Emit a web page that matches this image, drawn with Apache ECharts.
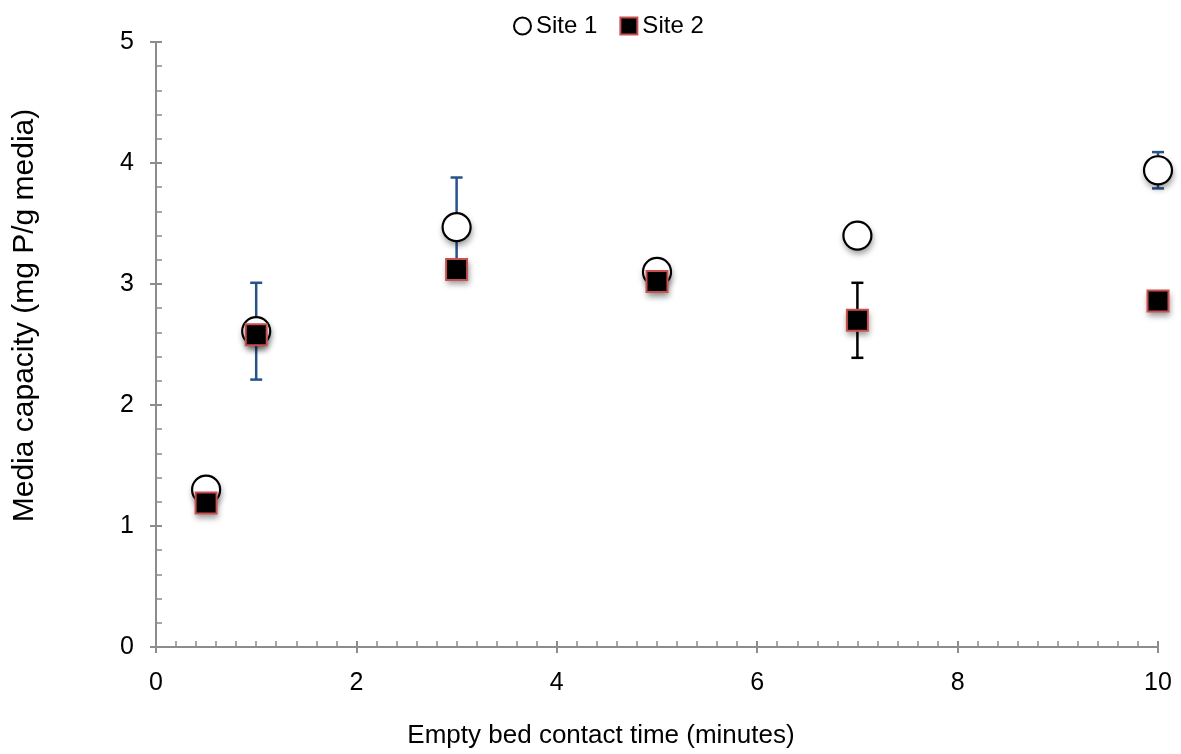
<!DOCTYPE html>
<html>
<head>
<meta charset="utf-8">
<script src="https://cdn.jsdelivr.net/npm/echarts@6/dist/echarts.min.js"></script>
<style>
  html, body { margin: 0; padding: 0; background: #fff; }
  #chart { width: 1181px; height: 754px; }
</style>
</head>
<body>
<div id="chart"></div>
<script>
// Empty bed contact time (minutes)
const ebct = [0.5, 1, 3, 5, 7, 10];
// Media capacity (mg P/g media)
const site1 = [1.30, 2.61, 3.47, 3.10, 3.40, 3.94];
const site2 = [1.19, 2.58, 3.12, 3.02, 2.70, 2.86];
// Error bar half-widths (null = no bar)
const site1Err = [null, 0.40, 0.41, null, null, 0.15];
const site2Err = [null, null, null, null, 0.31, null];

const xTicks = { min: 0, max: 10, interval: 2 };
const yTicks = { min: 0, max: 5, interval: 1 };

const FONT = 'Liberation Sans, Arial, sans-serif';
const AXIS_GREY = '#8c8c8c';

function errorData(vals, errs) {
  const out = [];
  vals.forEach((v, i) => {
    if (errs[i] != null) out.push([ebct[i], v - errs[i], v + errs[i]]);
  });
  return out;
}

function errorSeries(name, vals, errs, color) {
  return {
    type: 'custom',
    name: name + ' error',
    z: 1,
    silent: true,
    data: errorData(vals, errs),
    encode: { x: 0, y: [1, 2] },
    renderItem: function (params, api) {
      const x = api.value(0);
      const lo = api.coord([x, api.value(1)]);
      const hi = api.coord([x, api.value(2)]);
      const cap = 6;
      const style = { stroke: color, lineWidth: 2.5 };
      return {
        type: 'group',
        children: [
          { type: 'line', shape: { x1: lo[0], y1: lo[1], x2: hi[0], y2: hi[1] }, style: style },
          { type: 'line', shape: { x1: hi[0] - cap, y1: hi[1], x2: hi[0] + cap, y2: hi[1] }, style: style },
          { type: 'line', shape: { x1: lo[0] - cap, y1: lo[1], x2: lo[0] + cap, y2: lo[1] }, style: style }
        ]
      };
    }
  };
}

// Soft drop shadow drawn as its own layer so marker fills stay clean
function shadowSeries(vals, symbol, size, z) {
  return {
    type: 'scatter',
    name: 'shadow',
    z: z,
    silent: true,
    symbol: symbol,
    symbolSize: size,
    itemStyle: {
      color: '#ffffff',
      opacity: 1,
      shadowBlur: 6,
      shadowOffsetX: 1,
      shadowOffsetY: 4,
      shadowColor: 'rgba(0,0,0,0.4)'
    },
    data: ebct.map((x, i) => [x, vals[i]])
  };
}

const chart = echarts.init(document.getElementById('chart'), null, { renderer: 'canvas' });

const baseX = { type: 'value', min: xTicks.min, max: xTicks.max, interval: xTicks.interval };
const baseY = { type: 'value', min: yTicks.min, max: yTicks.max, interval: yTicks.interval };

chart.setOption({
  backgroundColor: '#ffffff',
  animation: false,
  textStyle: { fontFamily: FONT },
  legend: {
    top: 9,
    left: 508,
    itemWidth: 17,
    itemHeight: 17,
    itemGap: 22,
    textStyle: { fontSize: 24, color: '#000', fontFamily: FONT },
    data: ['Site 1', 'Site 2']
  },
  grid: { left: 156, right: 23, top: 42, bottom: 101, containLabel: false },
  xAxis: [
    Object.assign({}, baseX, {
      name: 'Empty bed contact time (minutes)',
      nameLocation: 'middle',
      nameGap: 76,
      nameTextStyle: { fontSize: 26, color: '#000', fontFamily: FONT, padding: [0, 112, 0, 0] },
      axisLine: { show: true, lineStyle: { color: AXIS_GREY, width: 2 } },
      axisTick: { show: true, inside: true, length: 6, lineStyle: { color: AXIS_GREY, width: 2 } },
      minorTick: { show: true, splitNumber: 10, length: 6, lineStyle: { color: AXIS_GREY, width: 1.5 } },
      axisLabel: { fontSize: 25, color: '#000', margin: 24, fontFamily: FONT },
      splitLine: { show: false }
    }),
    Object.assign({}, baseX, {
      position: 'bottom',
      axisLine: { show: false },
      axisTick: { show: true, inside: false, length: 6, lineStyle: { color: AXIS_GREY, width: 2 } },
      axisLabel: { show: false },
      splitLine: { show: false }
    })
  ],
  yAxis: [
    Object.assign({}, baseY, {
      name: 'Media capacity (mg P/g media)',
      nameLocation: 'middle',
      nameGap: 116,
      nameRotate: 90,
      nameTextStyle: { fontSize: 30, color: '#000', fontFamily: FONT, padding: [0, 0, 0, 58] },
      axisLine: { show: true, lineStyle: { color: AXIS_GREY, width: 2 } },
      axisTick: { show: true, inside: true, length: 6, lineStyle: { color: AXIS_GREY, width: 2 } },
      minorTick: { show: true, splitNumber: 5, length: 6, lineStyle: { color: AXIS_GREY, width: 1.5 } },
      axisLabel: { fontSize: 25, color: '#000', margin: 22, fontFamily: FONT },
      splitLine: { show: false }
    }),
    Object.assign({}, baseY, {
      position: 'left',
      axisLine: { show: false },
      axisTick: { show: true, inside: false, length: 6, lineStyle: { color: AXIS_GREY, width: 2 } },
      axisLabel: { show: false },
      splitLine: { show: false }
    })
  ],
  series: [
    errorSeries('Site 1', site1, site1Err, '#27528a'),
    errorSeries('Site 2', site2, site2Err, '#000000'),
    shadowSeries(site1, 'circle', 29, 2),
    {
      name: 'Site 1',
      type: 'scatter',
      z: 3,
      symbol: 'circle',
      symbolSize: 28,
      itemStyle: { color: '#ffffff', opacity: 1, borderColor: '#000000', borderWidth: 2.2 },
      data: ebct.map((x, i) => [x, site1[i]])
    },
    shadowSeries(site2, 'rect', 22, 4),
    {
      name: 'Site 2',
      type: 'scatter',
      z: 5,
      symbol: 'rect',
      symbolSize: 21,
      itemStyle: { color: '#000000', opacity: 1, borderColor: '#c9504e', borderWidth: 2 },
      data: ebct.map((x, i) => [x, site2[i]])
    }
  ]
});
</script>
</body>
</html>
